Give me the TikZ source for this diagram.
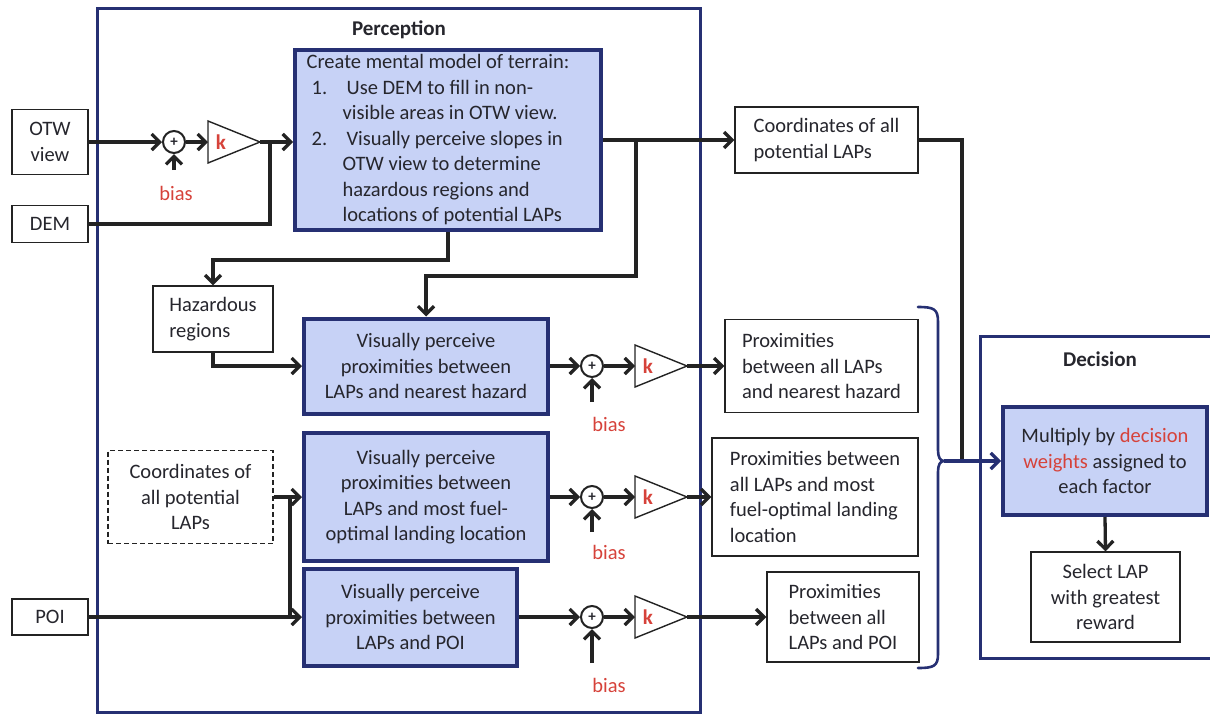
\documentclass[tikz,border=0pt]{standalone}
\usepackage{fontspec}
\setmainfont{Carlito}
\usetikzlibrary{arrows.meta,calc}
\definecolor{navy}{RGB}{38,48,115}
\definecolor{boxblue}{RGB}{199,210,246}
\definecolor{redtxt}{RGB}{214,66,58}
\definecolor{ink}{RGB}{35,35,35}
\definecolor{txt}{RGB}{38,38,45}
\newcommand\gainblk[3]{%
  \coordinate (#1b) at (#2,#3);
  \coordinate (#1a) at ($(#2,#3)+(52,0)$);
  \draw[gainline] ($(#1b)+(0,-21)$) -- (#1a) -- ($(#1b)+(0,21)$) -- cycle;
  \node[ktext] (#1k) at ($(#1b)+(13,0)$) {k};}
\begin{document}
\begin{tikzpicture}[x=1pt,y=-1pt,
  every node/.style={font=\fontsize{20.5}{25.5}\selectfont, text=txt},
  plainbox/.style={draw=ink, line width=1.3pt, fill=white, inner sep=0pt},
  bluebox/.style={draw=navy, line width=4pt, fill=boxblue, inner sep=0pt},
  conn/.style={draw=ink, line width=3.3pt, -{Straight Barb[length=8pt,width=16pt]}},
  navyconn/.style={draw=navy, line width=3.3pt, -{Straight Barb[length=8pt,width=16pt]}},
  wire/.style={draw=ink, line width=3.3pt},
  sumnode/.style={circle, draw=ink, line width=2pt, minimum size=22pt, inner sep=0pt, fill=white},
  gainline/.style={draw=ink, line width=1.4pt, fill=white},
  ktext/.style={text=redtxt, font=\fontsize{21}{22}\selectfont\bfseries},
  biastext/.style={text=redtxt},
  titletext/.style={font=\fontsize{21}{24}\selectfont\bfseries, text=txt},
  container/.style={draw=navy, line width=3pt},
]
\useasboundingbox (0,0) rectangle (1210,715);

% containers
\node[container, minimum width=603pt, minimum height=704pt, inner sep=0pt] (perc) at (398.5,360) {};
\node[titletext] (perctitle) at (399,30) {Perception};
\draw[container] (1214,336) -- (980,336) -- (980,658) -- (1214,658);
\node[titletext] (dectitle) at (1100,359) {Decision};

% left inputs
\node[plainbox, minimum width=76pt, minimum height=65pt, align=center] (otw) at (50,142) {OTW\\view};
\node[plainbox, minimum width=76pt, minimum height=37pt] (dem) at (50,224) {DEM};
\node[plainbox, minimum width=76pt, minimum height=36pt] (poi) at (50,617) {POI};

% top block
\node[bluebox, minimum width=306pt, minimum height=180pt, align=left] (top) at (448,140) {Create mental model of terrain:\hspace*{20pt}\\
\hspace*{5pt}\makebox[35pt][l]{1.}Use DEM to fill in non-\\
\hspace*{36pt}visible areas in OTW view.\\
\hspace*{5pt}\makebox[35pt][l]{2.}Visually perceive slopes in\\
\hspace*{36pt}OTW view to determine\\
\hspace*{36pt}hazardous regions and\\
\hspace*{36pt}locations of potential LAPs};

\node[sumnode] (s1) at (174,142) {\fontsize{15}{15}\selectfont\bfseries +};
\gainblk{g1}{208}{142}
\node[biastext] (bias1) at (176,193) {bias};
\coordinate (b1) at (174,170);
\coordinate (jdem) at (270,142);

\node[plainbox, minimum width=183pt, minimum height=66pt, align=left] (coords) at (826.5,140) {Coordinates of all\\potential LAPs};

\node[plainbox, minimum width=120pt, minimum height=66pt, align=left] (haz) at (213,319) {Hazardous\\regions};

% row 2
\node[bluebox, minimum width=244pt, minimum height=95pt, align=center] (box2) at (426,366) {Visually perceive\\proximities between\\LAPs and nearest hazard};
\node[sumnode] (s2) at (592,366) {\fontsize{15}{15}\selectfont\bfseries +};
\gainblk{g2}{635}{366}
\node[biastext] (bias2) at (609,424) {bias};
\coordinate (b2) at (592,402);
\node[plainbox, minimum width=193pt, minimum height=93pt, align=left] (prox1) at (821.5,366) {Proximities\\between all LAPs\\and nearest hazard};

% row 3
\node[plainbox, dash pattern=on 5pt off 3pt, minimum width=165pt, minimum height=93pt, align=center] (dashbox) at (190.5,497) {Coordinates of\\all potential\\LAPs};
\node[bluebox, minimum width=244pt, minimum height=128pt, align=center] (box3) at (426,497) {Visually perceive\\proximities between\\LAPs and most fuel-\\optimal landing location};
\node[sumnode] (s3) at (592,497) {\fontsize{15}{15}\selectfont\bfseries +};
\gainblk{g3}{635}{497}
\node[biastext] (bias3) at (609,552) {bias};
\coordinate (b3) at (592,532);
\node[plainbox, minimum width=206pt, minimum height=118pt, align=left] (prox2) at (815,497) {Proximities between\\all LAPs and most\\fuel-optimal landing\\location};

% row 4
\node[bluebox, minimum width=213pt, minimum height=97pt, align=center] (box4) at (410.5,617) {Visually perceive\\proximities between\\LAPs and POI};
\node[sumnode] (s4) at (592,617) {\fontsize{15}{15}\selectfont\bfseries +};
\gainblk{g4}{635}{617}
\node[biastext] (bias4) at (609,685) {bias};
\coordinate (b4) at (592,663);
\node[plainbox, minimum width=152pt, minimum height=90pt, align=left] (prox3) at (843,617) {Proximities\\between all\\LAPs and POI};

% decision
\node[bluebox, minimum width=204pt, minimum height=108pt, align=center] (dec) at (1105,461) {Multiply by \textcolor{redtxt}{decision}\\\textcolor{redtxt}{weights} assigned to\\each factor};
\node[plainbox, minimum width=149pt, minimum height=90pt, align=center] (sel) at (1105.5,597) {Select LAP\\with greatest\\reward};

% coordinates for junctions
\coordinate (j1) at (636,140);
\coordinate (j1b) at (636,276);
\coordinate (j2) at (448,260);
\coordinate (j3) at (290,497);
\coordinate (j4) at (290,617);
\coordinate (jd) at (962,461);
\coordinate (bt) at (944,461);

% connectors row 1
\draw[conn] (otw.east) -- (s1.west);
\draw[conn] (s1.east) -- (g1b);
\draw[conn] (b1) -- (s1.south);
\draw[conn] (g1a) -- (g1a -| top.west);
\draw[wire] (dem.east) -| (jdem);
\draw[conn] (top.east) -- (coords.west);
\draw[conn] (j1) -- (j1b) -| (box2.north);
\draw[conn] (top.south) -- (j2) -| (haz.north);
\draw[conn] (haz.south) |- (box2.west);

% row 2
\draw[conn] (box2.east) -- (s2.west);
\draw[conn] (s2.east) -- (g2b);
\draw[conn] (b2) -- (s2.south);
\draw[conn] (g2a) -- (prox1.west);

% row 3
\draw[conn] (dashbox.east) -- (box3.west);
\draw[wire] (j3) -- (j4);
\draw[conn] (box3.east) -- (s3.west);
\draw[conn] (s3.east) -- (g3b);
\draw[conn] (b3) -- (s3.south);
\draw[conn] (g3a) -- (prox2.west);

% row 4
\draw[conn] (poi.east) -- (box4.west);
\draw[conn] (box4.east) -- (s4.west);
\draw[conn] (s4.east) -- (g4b);
\draw[conn] (b4) -- (s4.south);
\draw[conn] (g4a) -- (prox3.west);

% brace and decision
\draw[navy, line width=2.6pt, line cap=round]
  (918,307) .. controls (934,307) and (938,309) .. (938,322)
  -- (938,450) .. controls (938,457) and (940,461) .. (bt)
  .. controls (940,461) and (938,465) .. (938,472)
  -- (938,654) .. controls (938,666) and (934,668) .. (918,668);
\draw[wire] (coords.east) -| (jd);
\draw[navyconn] (bt) -- (dec.west);
\draw[conn] (dec.south) -- (sel.north);
\end{tikzpicture}
\end{document}
